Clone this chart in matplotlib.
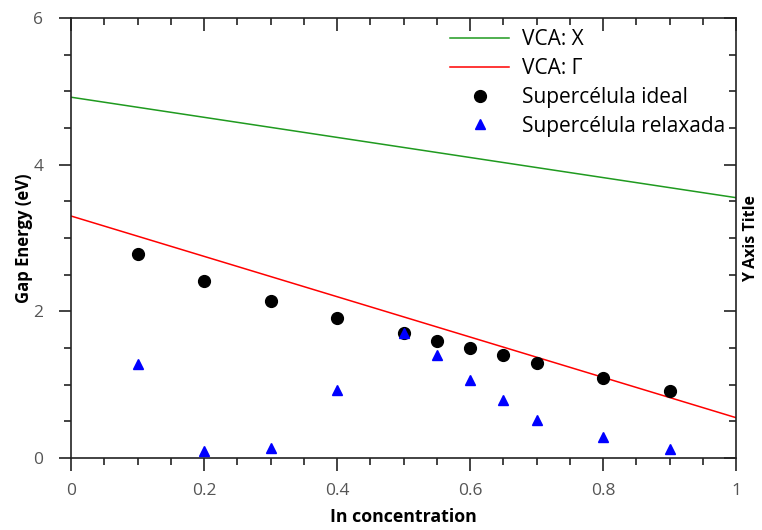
import matplotlib
matplotlib.use("Agg")
import matplotlib.pyplot as plt
from matplotlib.ticker import MultipleLocator

plt.rcParams['font.family'] = ['Open Sans', 'DejaVu Sans']

# VCA gap lines (endpoints at x=0 and x=1)
vca_x_conc = [0.0, 1.0]
vca_X_gap = [4.92, 3.55]
vca_G_gap = [3.30, 0.55]

# Supercell results
conc = [0.1, 0.2, 0.3, 0.4, 0.5, 0.55, 0.6, 0.65, 0.7, 0.8, 0.9]
gap_ideal = [2.78, 2.42, 2.14, 1.91, 1.71, 1.60, 1.50, 1.40, 1.30, 1.09, 0.91]
gap_relaxed = [1.28, 0.09, 0.13, 0.93, 1.70, 1.40, 1.06, 0.79, 0.52, 0.29, 0.12]

x_ticks = [0, 0.2, 0.4, 0.6, 0.8, 1.0]
x_ticklabels = ['0', '0.2', '0.4', '0.6', '0.8', '1']
y_ticks = [0, 2, 4, 6]
y_ticklabels = ['0', '2', '4', '6']

fig = plt.figure(figsize=(7.62, 5.30), dpi=100)
ax = fig.add_axes([71/762, 72/530, 665/762, 440/530])

ax.plot(vca_x_conc, vca_X_gap, color='#1f9a1f', lw=1.1, label='VCA: X')
ax.plot(vca_x_conc, vca_G_gap, color='red', lw=1.1, label='VCA: Γ')
ax.plot(conc, gap_ideal, 'o', color='black', ms=8.5, label='Supercélula ideal', zorder=3)
ax.plot(conc, gap_relaxed, '^', color='blue', ms=6.8, label='Supercélula relaxada', zorder=4)

ax.set_xlim(0, 1)
ax.set_ylim(0, 6)
ax.set_xticks(x_ticks)
ax.set_xticklabels(x_ticklabels)
ax.set_yticks(y_ticks)
ax.set_yticklabels(y_ticklabels)
ax.xaxis.set_minor_locator(MultipleLocator(0.05))
ax.yaxis.set_minor_locator(MultipleLocator(0.5))

ink = '#222222'
for s in ax.spines.values():
    s.set_linewidth(1.2)
    s.set_color(ink)

ax.tick_params(which='major', direction='out', length=9, width=1.2, color=ink,
               labelsize=12.5, labelcolor='#555555')
ax.tick_params(which='minor', direction='out', length=5, width=1.2, color=ink)
ax.tick_params(axis='y', which='major', pad=11)
ax.tick_params(axis='x', which='major', pad=9)

# top axis: inward ticks, no labels
top = ax.secondary_xaxis('top')
top.set_xticks(x_ticks)
top.xaxis.set_minor_locator(MultipleLocator(0.05))
top.tick_params(which='major', direction='in', length=9, width=1.2, color=ink, labeltop=False)
top.tick_params(which='minor', direction='in', length=5, width=1.2, color=ink)
top.spines['top'].set_visible(False)

# right axis: inward ticks, title only
right = ax.twinx()
right.set_ylim(0, 6)
right.set_yticks(y_ticks)
right.yaxis.set_minor_locator(MultipleLocator(0.5))
right.tick_params(which='major', direction='in', length=9, width=1.2, color=ink, labelright=False)
right.tick_params(which='minor', direction='in', length=5, width=1.2, color=ink)
for s in right.spines.values():
    s.set_visible(False)
right.set_ylabel('Y Axis Title', fontsize=11.5, fontweight='bold', labelpad=2)

ax.set_xlabel('In concentration', fontsize=12.8, fontweight='bold', labelpad=6.5)
ax.set_ylabel('Gap Energy (eV)', fontsize=12, fontweight='bold', labelpad=0)

ax.legend(loc='upper left', bbox_to_anchor=((450 - 71) / 665, 1 - (29 - 18) / 440),
          frameon=False, fontsize=15, handlelength=2.85, handletextpad=0.6,
          labelspacing=0.38, borderaxespad=0, borderpad=0)

fig.savefig('out.png', dpi=100)
